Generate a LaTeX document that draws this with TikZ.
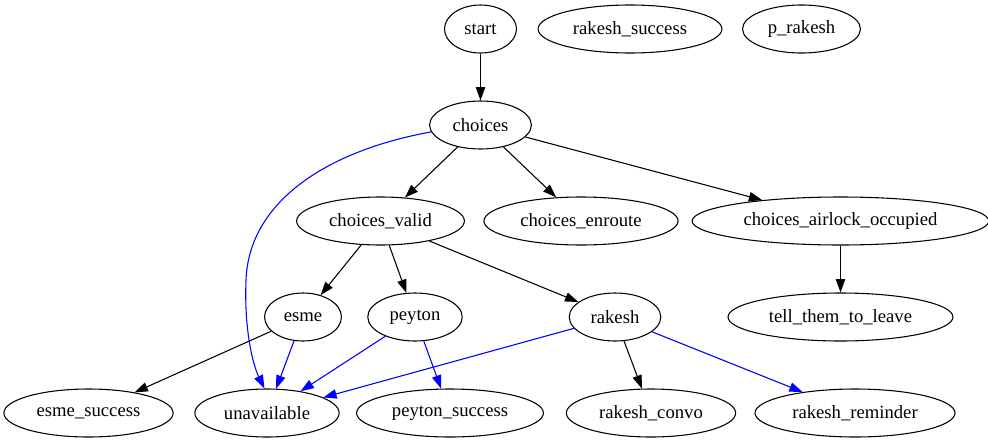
\documentclass[tikz,border=0pt]{standalone}
\usepackage{fontspec}
\setmainfont{Liberation Serif}
\usetikzlibrary{arrows.meta,shapes.geometric}
\begin{document}
\begin{tikzpicture}[x = 0.75pt, y = -0.75pt,
  state/.style = {draw, ellipse, line width = 0.8pt, inner xsep = 6pt, minimum height = 36pt, minimum width = 54pt, font = \fontsize{14}{16}\selectfont},
  edge/.style = {line width = 0.8pt, -{Triangle[length = 10pt, width = 7pt]}},
  blueedge/.style = {edge, blue}]
\useasboundingbox (0,0) rectangle (988,443);
%first rank
\node[state] (start) at (480.5,29) {start};
\node[state] (rsuccess) at (630,29) {rakesh\_success};
\node[state] (prakesh) at (801.5,29) {p\_rakesh};
%second rank
\node[state] (choices) at (480.5,125) {choices};
%third rank
\node[state] (valid) at (380.5,221) {choices\_valid};
\node[state] (enroute) at (581,221) {choices\_enroute};
\node[state] (airlock) at (840.5,221) {choices\_airlock\_occupied};
%fourth rank
\node[state] (esme) at (303,317) {esme};
\node[state] (peyton) at (415,317) {peyton};
\node[state] (rakesh) at (615,317) {rakesh};
\node[state] (leave) at (840.5,317) {tell\_them\_to\_leave};
%fifth rank
\node[state] (esuccess) at (88.5,413) {esme\_success};
\node[state] (unavail) at (267,413) {unavailable};
\node[state] (psuccess) at (450,413) {peyton\_success};
\node[state] (convo) at (651,413) {rakesh\_convo};
\node[state] (reminder) at (855,413) {rakesh\_reminder};
%edges
\draw[edge] (start) -- (choices);
\draw[edge] (choices) -- (valid);
\draw[edge] (choices) -- (enroute);
\draw[edge] (choices) -- (airlock);
\draw[blueedge] (choices.188) .. controls (330,150) and (249,200) .. (246,280) .. controls (244,330) and (253,365) .. (unavail.96);
\draw[edge] (airlock) -- (leave);
\draw[edge] (valid) -- (esme);
\draw[edge] (valid) -- (peyton);
\draw[edge] (valid) -- (rakesh);
\draw[edge] (esme) -- (esuccess);
\draw[blueedge] (esme) -- (unavail);
\draw[blueedge] (peyton) -- (unavail);
\draw[blueedge] (peyton) -- (psuccess);
\draw[blueedge] (rakesh) -- (unavail);
\draw[edge] (rakesh) -- (convo);
\draw[blueedge] (rakesh) -- (reminder);
\end{tikzpicture}
\end{document}
